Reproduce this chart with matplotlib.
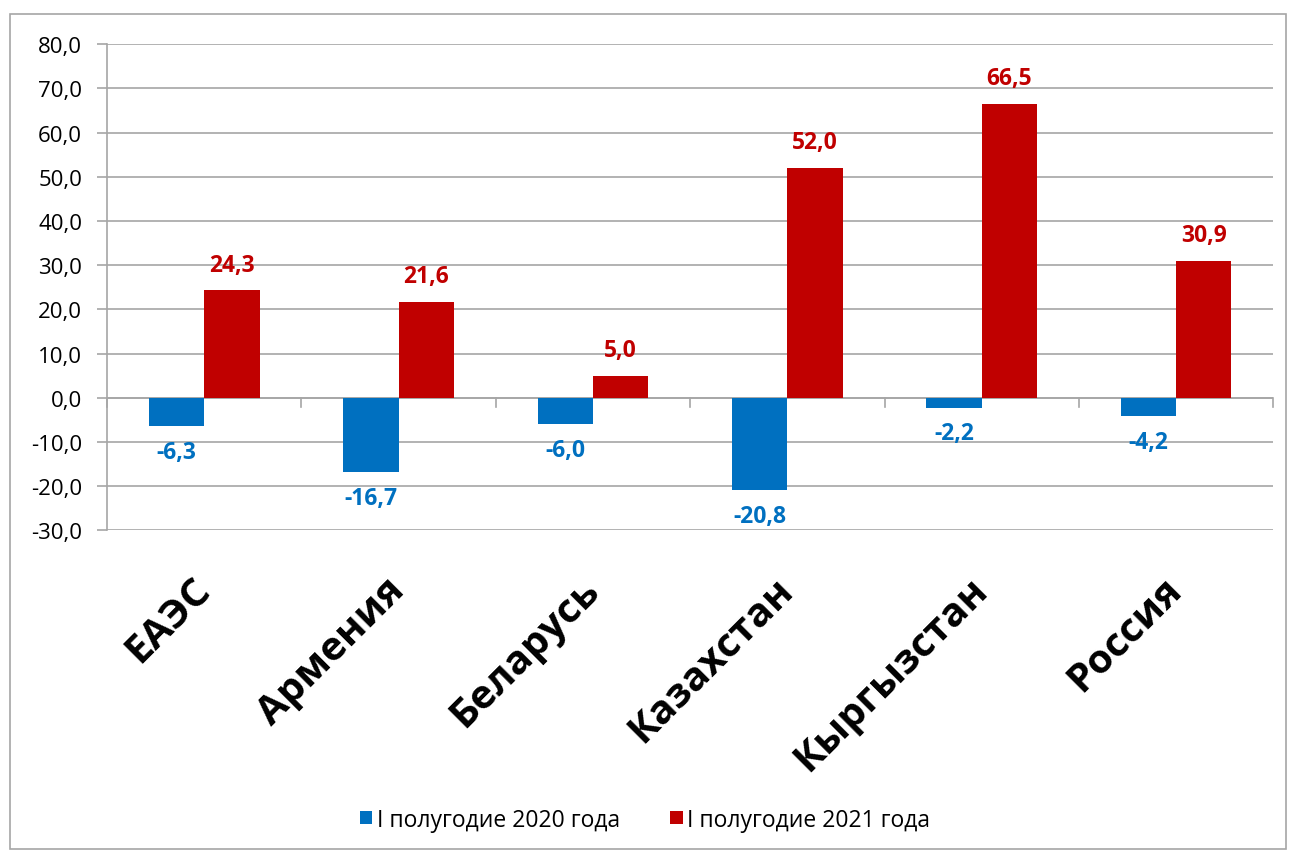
import matplotlib.pyplot as plt
import numpy as np
from matplotlib.patches import Rectangle

plt.rcParams['font.family'] = ['Open Sans', 'DejaVu Sans']

# Данные
categories = ['ЕАЭС', 'Армения', 'Беларусь', 'Казахстан', 'Кыргызстан', 'Россия']
values_2020 = [-6.3, -16.7, -6.0, -20.8, -2.2, -4.2]
values_2021 = [24.3, 21.6, 5.0, 52.0, 66.5, 30.9]
series_names = ['I полугодие 2020 года', 'I полугодие 2021 года']

blue = '#0070C0'
red = '#C00000'

fig = plt.figure(figsize=(12.9, 8.53), dpi=100)
ax = fig.add_axes([0.083, 0.377, 0.904, 0.570])

x = np.arange(len(categories))
w = 0.285
b1 = ax.bar(x - w / 2, values_2020, w, color=blue, label=series_names[0], zorder=3)
b2 = ax.bar(x + w / 2, values_2021, w, color=red, label=series_names[1], zorder=3)

fmt = lambda v: f'{v:.1f}'.replace('.', ',')
for rect, v in zip(b1, values_2020):
    ax.annotate(fmt(v), (rect.get_x() + rect.get_width() / 2, v), xytext=(0, -10),
                textcoords='offset points', ha='center', va='top',
                color=blue, fontsize=16.5, fontweight='bold')
for rect, v in zip(b2, values_2021):
    ax.annotate(fmt(v), (rect.get_x() + rect.get_width() / 2, v), xytext=(0, 10),
                textcoords='offset points', ha='center', va='bottom',
                color=red, fontsize=16.5, fontweight='bold')

ax.set_ylim(-30, 80)
ax.set_xlim(-0.5, len(categories) - 0.5)
yt = np.arange(-30, 81, 10)
ax.set_yticks(yt)
ax.set_yticklabels([fmt(v) for v in yt], fontsize=16)
ax.yaxis.grid(True, color='#A6A6A6', linewidth=1.2, zorder=0)
ax.tick_params(axis='y', length=7, color='#A6A6A6', width=1.2, pad=11)

for s in ['top', 'right', 'bottom']:
    ax.spines[s].set_visible(False)
ax.spines['left'].set_color('#A6A6A6')
ax.spines['left'].set_linewidth(1.2)

# ось категорий на нуле
ax.axhline(0, color='#A6A6A6', linewidth=1.2, zorder=2)
for xs in np.arange(-0.5, len(categories), 1.0):
    ax.plot([xs, xs], [0, -2.1], color='#A6A6A6', linewidth=1.2, zorder=2, clip_on=False)

ax.set_xticks(x)
ax.set_xticklabels(categories, rotation=45, ha='right', va='center', rotation_mode='anchor',
                   fontsize=29, fontweight='bold')
ax.tick_params(axis='x', length=0, pad=38)

fig.legend(handles=[b1, b2], labels=series_names, loc='center', bbox_to_anchor=(0.5, 0.038),
           ncol=2, frameon=False, fontsize=16.5, handlelength=0.55, handleheight=0.55,
           handletextpad=0.2, columnspacing=2.2)

fig.add_artist(Rectangle((0.008, 0.004), 0.989, 0.979, transform=fig.transFigure,
                         fill=False, edgecolor='#A6A6A6', linewidth=1.2))

fig.savefig('out.png', dpi=100)
